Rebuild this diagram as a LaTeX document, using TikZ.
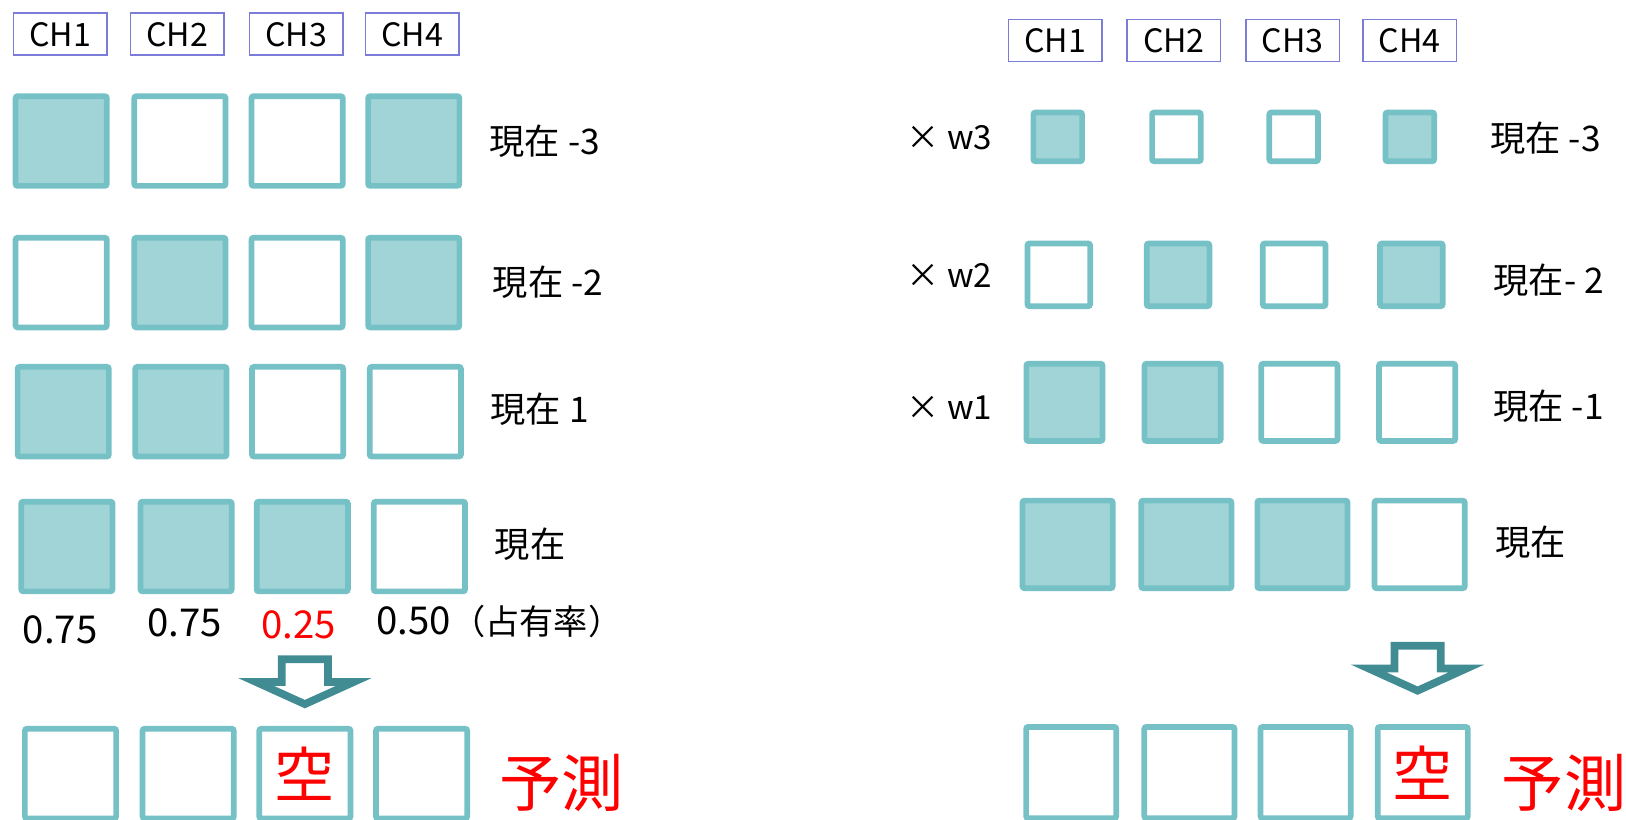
\documentclass[tikz,border=0pt]{standalone}
\usepackage{fontspec}
\setmainfont{Noto Sans CJK JP}
\definecolor{sqline}{HTML}{75C1C6}
\definecolor{sqfill}{HTML}{A1D4D7}
\definecolor{arrowc}{HTML}{418C92}
\definecolor{hdrline}{HTML}{7B7BD8}
\definecolor{redtxt}{HTML}{FF0000}
\tikzset{
  sqbase/.style={draw=sqline, line width=5.5pt, rounded corners=2pt, inner sep=0pt},
  sqfull/.style={sqbase, fill=sqfill},
  sqempty/.style={sqbase, fill=white},
  hdrbox/.style={draw=hdrline, line width=1.5pt, minimum width=90pt, minimum height=40.5pt, inner sep=0pt, font=\fontsize{31}{33}\selectfont},
  lbl/.style={anchor=west, inner sep=0pt, font=\fontsize{34}{36}\selectfont},
  wlbl/.style={anchor=west, inner sep=0pt, font=\fontsize{32}{34}\selectfont},
  numlbl/.style={inner sep=0pt, font=\fontsize{37}{39}\selectfont},
  bigred/.style={inner sep=0pt, text=redtxt, font=\fontsize{60}{62}\selectfont},
  blockarrow/.style={draw=arrowc, line width=7.4pt, fill=white, miter limit=20, line join=miter}
}
\begin{document}
\begin{tikzpicture}[x=1pt,y=-1pt]
\useasboundingbox (0,0) rectangle (1568,790);
% ---------- left headers ----------
\node[hdrbox] (LH1) at (58,33) {CH1};
\node[hdrbox] (LH2) at (171,33) {CH2};
\node[hdrbox] (LH3) at (285.5,33) {CH3};
\node[hdrbox] (LH4) at (397.5,33) {CH4};
% ---------- left squares ----------
\foreach \n/\x/\y/\s in {
  L11/59/136/sqfull, L12/173.5/136/sqempty, L13/286.5/136/sqempty, L14/399/136/sqfull,
  L21/59/272.5/sqempty, L22/173.5/272.5/sqfull, L23/286.5/272.5/sqempty, L24/399/272.5/sqfull,
  L31/61/397/sqfull, L32/174.5/397/sqfull, L33/287/397/sqempty, L34/400.5/397/sqempty,
  L41/64.5/527/sqfull, L42/179.5/527/sqfull, L43/291.5/527/sqfull, L44/404.5/527/sqempty,
  L51/68/746/sqempty, L52/181.5/746/sqempty, L54/406.5/746/sqempty}
  \node[style=\s, minimum width=88pt, minimum height=86.5pt] (\n) at (\x,\y) {};
\node[sqempty, minimum width=88pt, minimum height=86.5pt, text=redtxt, font=\fontsize{58}{60}\selectfont] (L53) at (294,746) {空};
% left labels
\node[lbl] (LT1) at (472,136) {現在 -3};
\node[lbl] (LT2) at (475,272) {現在 -2};
\node[lbl] (LT3) at (473,395) {現在 1};
\node[lbl] (LT4) at (477,525) {現在};
% occupancy
\node[numlbl] (O1) at (58,607) {0.75};
\node[numlbl] (O2) at (178,601) {0.75};
\node[numlbl, text=redtxt] (O3) at (288,603) {0.25};
\node[numlbl, anchor=west] (O4) at (363,599) {0.50{\fontsize{33}{35}\selectfont （占有率）}};
% left arrow
\draw[blockarrow] (271.7,635.7) -- (316.3,635.7) -- (316.3,657.7) -- (341,657.7) -- (294,679) -- (247,657.7) -- (271.7,657.7) -- cycle;
\node[bigred, anchor=west] (LP) at (481,755) {予測};
% ---------- right headers ----------
\node[hdrbox] (RH1) at (1017.5,39) {CH1};
\node[hdrbox] (RH2) at (1132,39) {CH2};
\node[hdrbox] (RH3) at (1246.5,39) {CH3};
\node[hdrbox] (RH4) at (1359.5,39) {CH4};
% ---------- right squares ----------
\foreach \n/\x/\y/\s in {
  R11/1020/132/sqfull, R12/1134.5/132/sqempty, R13/1247.5/132/sqempty, R14/1359.5/132/sqfull}
  \node[style=\s, minimum width=47pt, minimum height=47pt] (\n) at (\x,\y) {};
\foreach \n/\x/\y/\s in {
  R21/1021/265/sqempty, R22/1136/265/sqfull, R23/1248/265/sqempty, R24/1361/265/sqfull}
  \node[style=\s, minimum width=60.5pt, minimum height=60.5pt] (\n) at (\x,\y) {};
\foreach \n/\x/\y/\s in {
  R31/1026.5/388/sqfull, R32/1140.5/388/sqfull, R33/1253/388/sqempty, R34/1366.5/388/sqempty}
  \node[style=\s, minimum width=73.5pt, minimum height=74.5pt] (\n) at (\x,\y) {};
\foreach \n/\x/\y/\s in {
  R41/1029.5/525/sqfull, R42/1144/525/sqfull, R43/1256/525/sqfull, R44/1369/525/sqempty}
  \node[style=\s, minimum width=87pt, minimum height=84.5pt] (\n) at (\x,\y) {};
\foreach \n/\x/\y in {R51/1033/745, R52/1147/745, R53/1259/745}
  \node[sqempty, minimum width=87pt, minimum height=88pt] (\n) at (\x,\y) {};
\node[sqempty, minimum width=87pt, minimum height=88pt, text=redtxt, font=\fontsize{58}{60}\selectfont] (R54) at (1372,745) {空};
% right labels
\node[wlbl] (RW3) at (874,133) {× w3};
\node[wlbl] (RW2) at (874,266) {× w2};
\node[wlbl] (RW1) at (874,393) {× w1};
\node[lbl] (RT1) at (1437,133) {現在 -3};
\node[lbl] (RT2) at (1440,270) {現在- 2};
\node[lbl] (RT3) at (1440,392) {現在 -1};
\node[lbl] (RT4) at (1442,523) {現在};
% right arrow
\draw[blockarrow] (1344.7,622.7) -- (1389.3,622.7) -- (1389.3,644.7) -- (1414,644.7) -- (1367,666) -- (1320,644.7) -- (1344.7,644.7) -- cycle;
\node[bigred, anchor=west] (RP) at (1448,755) {予測};
\end{tikzpicture}
\end{document}
